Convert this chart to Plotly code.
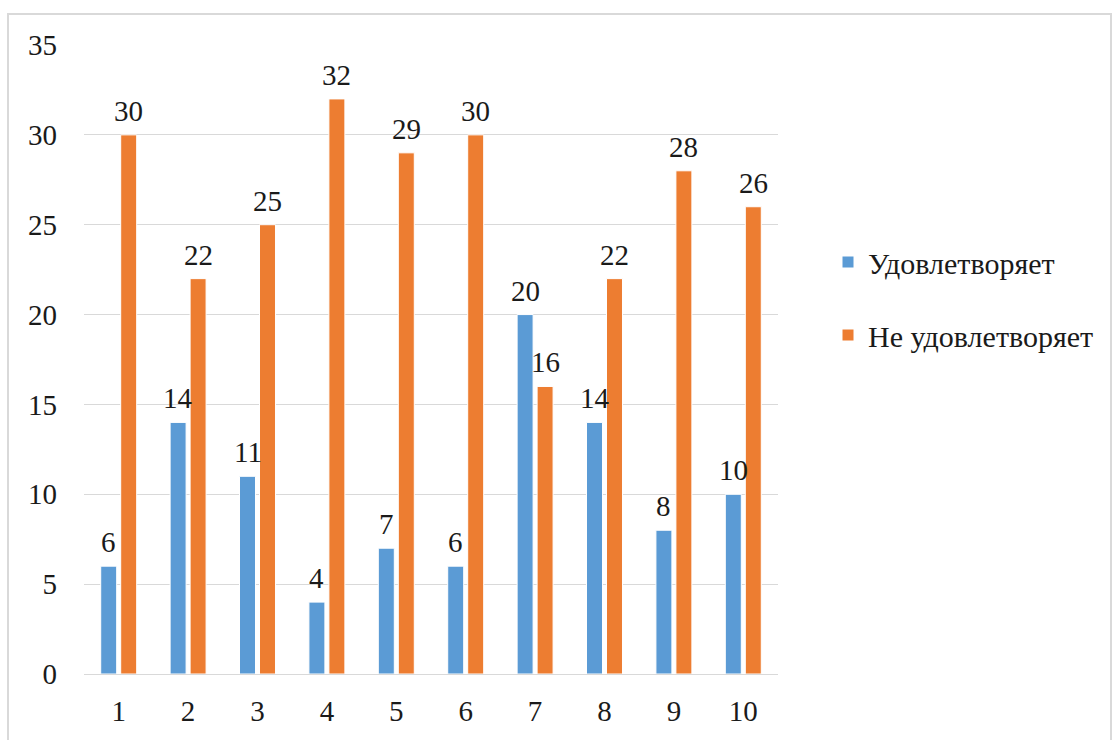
import plotly.graph_objects as go

categories = ["1", "2", "3", "4", "5", "6", "7", "8", "9", "10"]
satisfied = [6, 14, 11, 4, 7, 6, 20, 14, 8, 10]
not_satisfied = [30, 22, 25, 32, 29, 30, 16, 22, 28, 26]
series_names = ["Удовлетворяет", "Не удовлетворяет"]

FONT = "Liberation Serif, Times New Roman, serif"
TXT = "#1a1a1a"
FS = 29

fig = go.Figure()
fig.add_trace(go.Bar(
    x=categories, y=satisfied, name=series_names[0],
    marker=dict(color="#5B9BD5", line=dict(color="white", width=1)),
    legend="legend", showlegend=True,
))
fig.add_trace(go.Bar(
    x=categories, y=not_satisfied, name=series_names[1],
    marker=dict(color="#ED7D31", line=dict(color="white", width=1)),
    legend="legend2", showlegend=True,
))

annotations = []
for vals, xs in ((satisfied, -10), (not_satisfied, 10)):
    for i, v in enumerate(vals):
        annotations.append(dict(
            x=i, y=v, xref="x", yref="y", text=str(v), showarrow=False,
            xanchor="center", yanchor="bottom", xshift=xs, yshift=6,
            font=dict(family=FONT, size=FS, color=TXT),
        ))

W, H = 1113, 740
L, R, T, B = 84, 335, 45, 66
pw = W - L - R
ph = H - T - B

def px_x(px):
    return (px - L) / pw

def px_y(py):
    return (H - B - py) / ph

fig.update_layout(
    width=W, height=H,
    margin=dict(l=L, r=R, t=T, b=B, pad=0, autoexpand=False),
    paper_bgcolor="white", plot_bgcolor="white",
    barmode="group", bargap=0.424, bargroupgap=0.2,
    showlegend=True,
    font=dict(family=FONT, size=FS, color=TXT),
    xaxis=dict(type="category", showgrid=False, showline=True, linecolor="#d9d9d9",
               linewidth=1, ticks="", ticklabelstandoff=11, range=[-0.5, 9.5],
               tickfont=dict(family=FONT, size=FS, color=TXT)),
    yaxis=dict(range=[0, 35], dtick=5, showgrid=True, gridcolor="#d9d9d9", gridwidth=1,
               zeroline=False, showline=False, ticks="", ticklabelstandoff=26,
               tickfont=dict(family=FONT, size=FS, color=TXT)),
    legend=dict(x=px_x(828), y=px_y(262), xanchor="left", yanchor="middle",
                font=dict(family=FONT, size=30, color=TXT), bgcolor="rgba(0,0,0,0)"),
    legend2=dict(x=px_x(828), y=px_y(335), xanchor="left", yanchor="middle",
                 font=dict(family=FONT, size=30, color=TXT), bgcolor="rgba(0,0,0,0)"),
    annotations=annotations,
    shapes=[dict(type="rect", xref="paper", yref="paper",
                 x0=px_x(8), x1=px_x(1111), y0=px_y(745), y1=px_y(14),
                 line=dict(color="#d9d9d9", width=2), layer="below")],
)

fig.write_html("out.html")
